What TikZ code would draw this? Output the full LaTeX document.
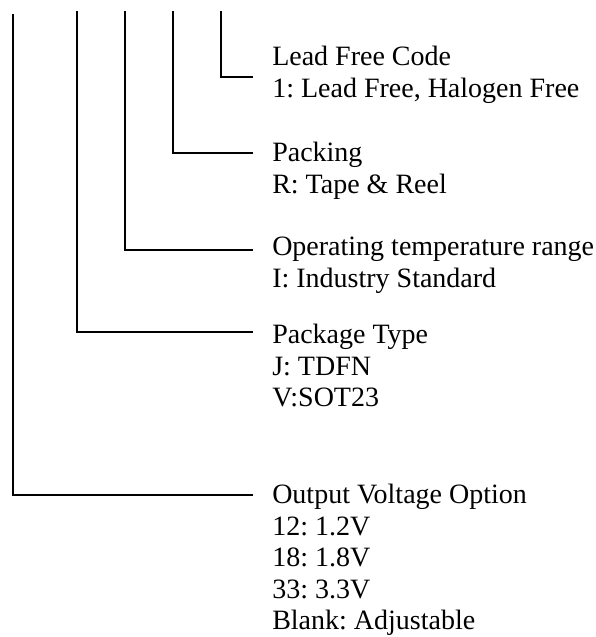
\documentclass[tikz,border=0pt]{standalone}
\usepackage{fontspec}
\setmainfont{Liberation Serif}
\tikzset{
  lbl/.style={font=\fontsize{21}{23.6}\selectfont\frenchspacing, align=left, anchor=north west, inner sep=0pt},
  wire/.style={line width=1.4pt}
}
\begin{document}
\begin{tikzpicture}[x=0.75pt,y=0.75pt,yscale=-1,xscale=1]
        \useasboundingbox (0,0) rectangle (596,637);
        % Text Node
        \node [lbl] (lead) at (272,46) {Lead Free Code\\1: Lead Free, Halogen Free};
        % Text Node
        \node [lbl] (pack) at (272,142) {Packing\\R: Tape \& Reel};
        % Text Node
        \node [lbl] (temp) at (272,237) {Operating temperature range\\I: Industry Standard};
        % Text Node
        \node [lbl] (type) at (272,324) {Package Type\\J: TDFN\\V:SOT23};
        % Text Node
        \node [lbl] (volt) at (272,484) {Output Voltage Option\\12: 1.2V\\18: 1.8V\\33: 3.3V\\Blank: Adjustable};
        % Ends
        \coordinate (voltTop) at (13,14);
        \coordinate (typeTop) at (77,11);
        \coordinate (tempTop) at (125,11);
        \coordinate (packTop) at (173,11);
        \coordinate (leadTop) at (221,11);
        \coordinate (voltEnd) at (253,495);
        \coordinate (typeEnd) at (253,332);
        \coordinate (tempEnd) at (253,250);
        \coordinate (packEnd) at (253,153);
        \coordinate (leadEnd) at (253,77);
        % Connection
        \draw [wire] (voltTop) |- (voltEnd);
        % Connection
        \draw [wire] (typeTop) |- (typeEnd);
        % Connection
        \draw [wire] (tempTop) |- (tempEnd);
        % Connection
        \draw [wire] (packTop) |- (packEnd);
        % Connection
        \draw [wire] (leadTop) |- (leadEnd);
\end{tikzpicture}
\end{document}
